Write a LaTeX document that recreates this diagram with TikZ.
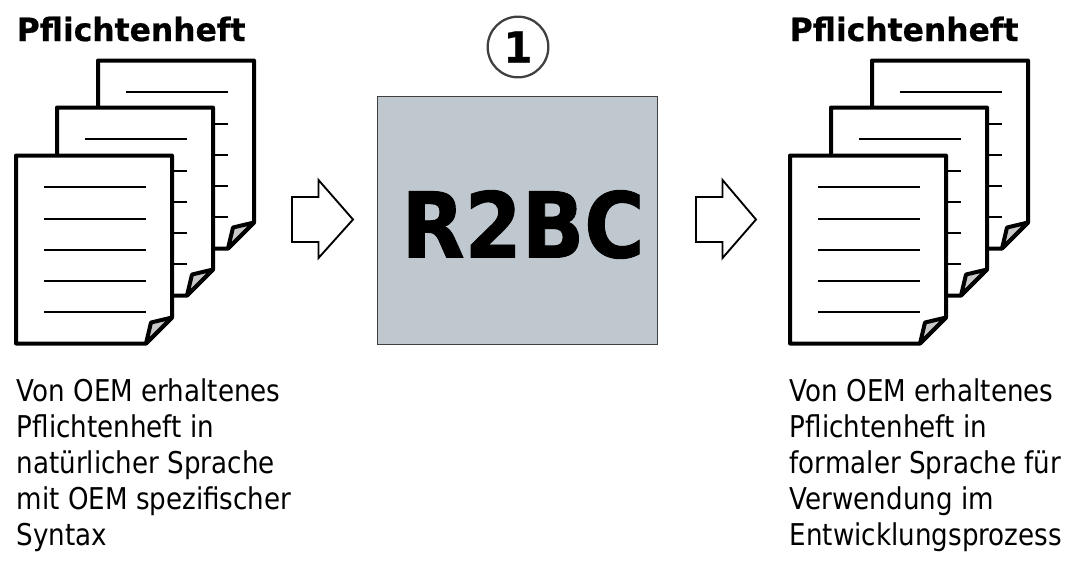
\documentclass[tikz,border=0pt]{standalone}
\usepackage{fontspec}
\setmainfont{DejaVu Sans}[FakeStretch=0.9]
\newfontfamily\plainbody{DejaVu Sans}[FakeStretch=0.872]
\newfontfamily\headfont{DejaVu Sans Bold}[FakeStretch=0.98,FakeBold=0.6]
\newfontfamily\bigfont{DejaVu Sans Bold}[FakeStretch=0.905,FakeBold=1]
\definecolor{boxfill}{HTML}{BEC8CE}
\definecolor{boxline}{HTML}{404040}
\definecolor{foldgray}{HTML}{C8C8C8}
\tikzset{
  x=0.75pt,y=-0.75pt,
  page/.style={draw=black,fill=white,line width=3pt,line join=round},
  rule/.style={draw=black,line width=2.2pt},
  fold/.style={draw=black,fill=foldgray,line width=3pt,line join=round},
  block/.style={draw=black,fill=white,line width=1.4pt,line join=miter},
  head/.style={anchor=base west,inner sep=0pt,font=\headfont\fontsize{24}{24}\selectfont},
  body/.style={anchor=north west,inner sep=0pt,align=left,font=\plainbody\fontsize{22.5}{27}\selectfont},
  doc/.pic={
    \path[page] (0,0) -- (156,0) -- (156,162) -- (130,188) -- (0,188) -- cycle;
    \path[fold] (130,188) -- (135,167) -- (156,162) -- cycle;
    \foreach \yy in {31.5,63.5,94.5,125.5,156.5}{\path[rule] (28,\yy) -- (130,\yy);}
  },
  stack/.pic={
    \pic at (82,-95) {doc};
    \pic at (41,-48) {doc};
    \pic at (0,0) {doc};
  }
}
\begin{document}
\begin{tikzpicture}
\useasboundingbox (0,0) rectangle (1087,565);
% left stack
\pic at (16,155.5) {stack};
\node[head] (t1) at (16.5,41) {Pflichtenheft};
\node[body] (d1) at (16.5,378) {Von OEM erhaltenes\\Pflichtenheft in\\natürlicher Sprache\\mit OEM spezifischer\\Syntax};
% right stack
\pic at (790,155.5) {stack};
\node[head] (t2) at (789.5,41) {Pflichtenheft};
\node[body] (d2) at (789.5,378) {Von OEM erhaltenes\\Pflichtenheft in\\formaler Sprache für\\Verwendung im\\Entwicklungsprozess};
% arrows
\path[block] (292,197) -- (318.5,197) -- (318.5,180) -- (353,219.5) -- (318.5,258) -- (318.5,242) -- (292,242) -- cycle;
\path[block] (696,197) -- (722.5,197) -- (722.5,180) -- (756,219.5) -- (722.5,258) -- (722.5,242) -- (696,242) -- cycle;
% central box
\node[draw=boxline,fill=boxfill,line width=1.1pt,minimum width=210pt,minimum height=186pt,inner sep=0pt,anchor=north west] (box) at (377,96) {};
\node[inner sep=0pt,font=\bigfont\fontsize{68}{68}\selectfont] (r2bc) at (523,224.5) {R2BC};
\node[circle,draw=boxline,fill=white,line width=1.7pt,minimum size=45.5pt,inner sep=0pt,font=\headfont\fontsize{32}{32}\selectfont] (one) at (518,47) {1};
\end{tikzpicture}
\end{document}
